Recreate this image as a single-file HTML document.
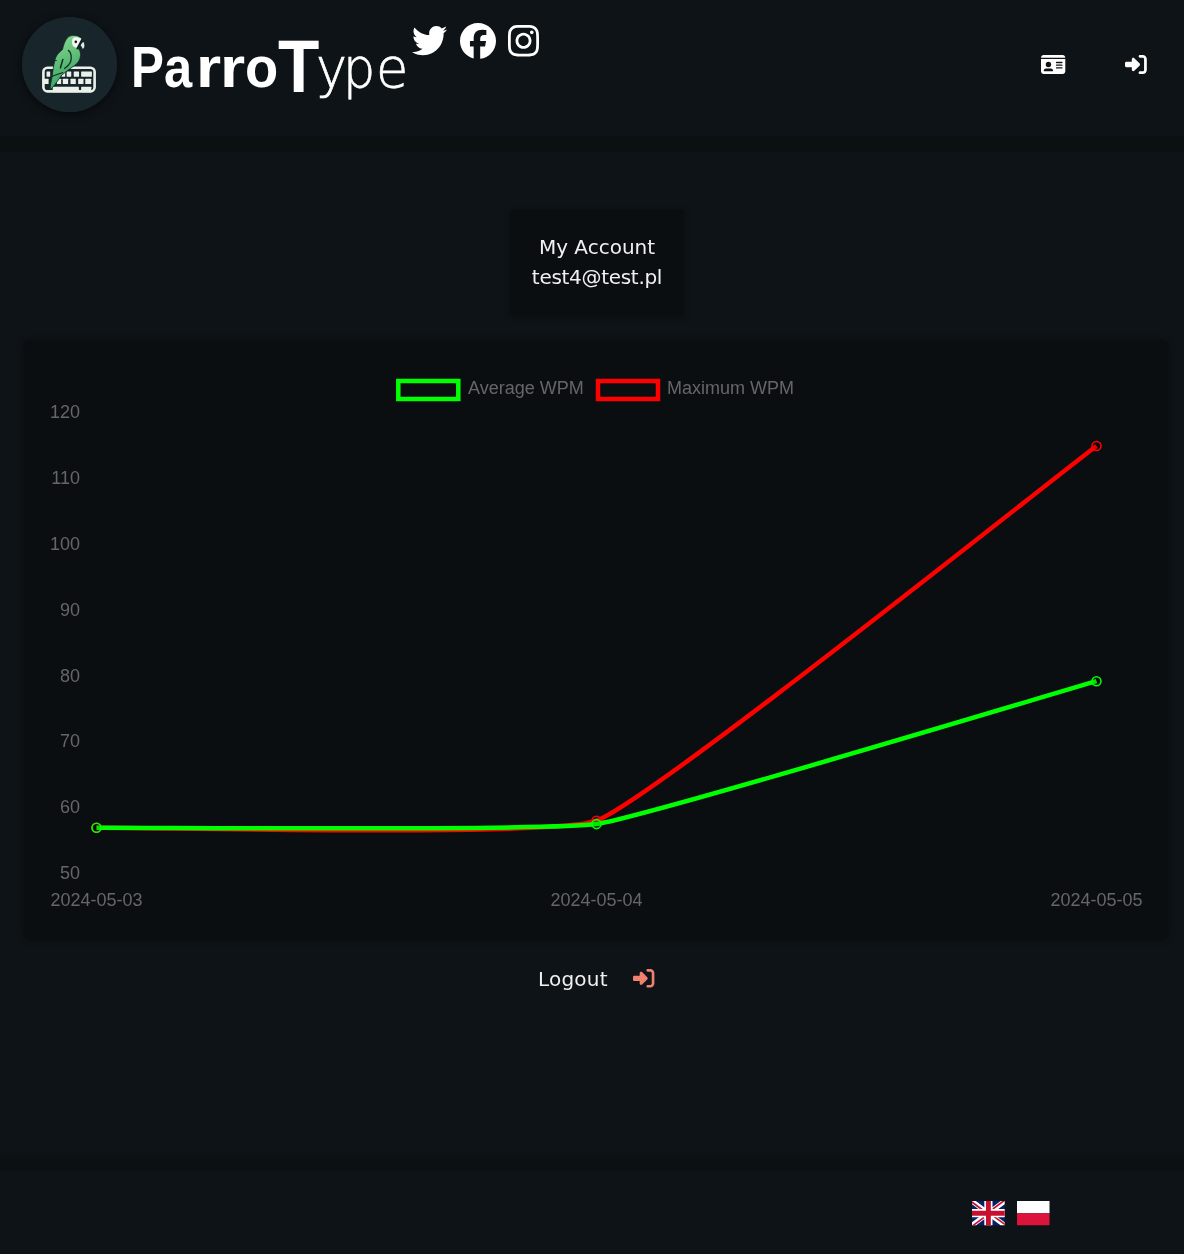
<!DOCTYPE html>
<html lang="en">
<head>
<meta charset="utf-8">
<title>ParroType - My Account</title>
<style>
html,body{margin:0;padding:0}
body{width:1184px;height:1254px;overflow:hidden;position:relative;background:#0e1317;font-family:"Liberation Sans",Arial,sans-serif;color:#fff}
.abs{position:absolute}
#header{left:0;top:0;width:1184px;height:136px;background:#0e1317;z-index:1}
#hband{left:0;top:136px;width:1184px;height:16px;background:#0b1013}
#fband{left:0;top:1152px;width:1184px;height:19px;background:linear-gradient(#0d1215,#0b1013 40%,#0b1013)}
#title{left:0;top:0;white-space:nowrap;color:#fff}
.tb{position:absolute;top:38.5px;font-weight:700;font-size:57px;line-height:1;transform-origin:0 0}
.tT{position:absolute;top:30.2px;font-weight:700;font-size:74px;line-height:1;transform-origin:0 0}
.tl{position:absolute;top:41px;font-family:"DejaVu Sans",sans-serif;font-weight:200;font-size:55px;line-height:1;transform-origin:0 0;-webkit-text-stroke:0.7px #fff}
#acct{left:510px;top:209px;width:174px;height:106px;background:#0a0e11;box-shadow:0 2px 6px rgba(0,0,0,.3);border-radius:4px}
.acct-t{position:absolute;left:0;width:174px;text-align:center;font-family:"DejaVu Sans",sans-serif;font-size:20px;line-height:30px;color:#f0f0f0}
#chart{left:23.5px;top:341px;width:1144px;height:599px;background:#0a0e11;border-radius:5px;box-shadow:0 0 6px rgba(0,0,0,.4)}
#logout{left:538px;top:967px;letter-spacing:0.2px;font-family:"DejaVu Sans",sans-serif;font-size:20px;line-height:24px;color:#f0f0f0}
#footer{left:0;top:1171px;width:1184px;height:83px;background:#0e1317}
svg{position:absolute;overflow:visible}
</style>
</head>
<body>
<div id="header" class="abs">
  <!-- logo -->
  <div class="abs" style="left:22px;top:17px;width:95px;height:95px;border-radius:50%;background:#18252b;box-shadow:0 2px 8px rgba(0,0,0,.55)"></div>
  <svg style="left:22px;top:17px" width="95" height="95" viewBox="0 0 95 95">
    <defs>
      <linearGradient id="pg" x1="0" y1="0" x2="0.3" y2="1">
        <stop offset="0" stop-color="#8fd99b"/>
        <stop offset="0.4" stop-color="#6cc680"/>
        <stop offset="1" stop-color="#34a063"/>
      </linearGradient>
    </defs>
    <circle cx="47.5" cy="47.5" r="47.5" fill="#18252b"/>
    <g transform="translate(13,13) scale(0.05914)">
      <!-- keyboard frame -->
      <rect x="142" y="638" width="866" height="400" rx="70" fill="none" stroke="#e9f1ea" stroke-width="44"/>
      <!-- row 1 -->
      <g fill="#e9f1ea">
        <rect x="195" y="700" width="62" height="90" rx="8"/>
        <rect x="445" y="700" width="65" height="90" rx="8"/>
        <rect x="535" y="700" width="78" height="90" rx="8"/>
        <rect x="655" y="700" width="90" height="90" rx="8"/>
        <rect x="780" y="700" width="182" height="90" rx="8"/>
        <!-- row 2 -->
        <rect x="130" y="825" width="100" height="90" rx="8"/>
        <rect x="370" y="825" width="72" height="90" rx="8"/>
        <rect x="470" y="825" width="90" height="90" rx="8"/>
        <rect x="600" y="825" width="90" height="90" rx="8"/>
        <rect x="730" y="825" width="90" height="90" rx="8"/>
        <rect x="850" y="825" width="100" height="90" rx="8"/>
        <!-- row 3 -->
        <rect x="300" y="960" width="442" height="92" rx="8"/>
        <rect x="780" y="960" width="172" height="92" rx="8"/>
      </g>
      <!-- parrot body -->
      <path d="M565 115 C600 92 660 82 720 100 C755 112 785 135 798 152 L722 305 C748 322 762 350 768 390 C771 410 770 420 770 430 C765 500 730 560 670 600 C600 650 520 700 455 760 C410 820 350 920 255 1015 C255 940 275 860 290 780 C300 700 315 600 335 510 C350 440 395 385 465 330 C480 260 505 170 565 115 Z" fill="url(#pg)" stroke="#0f2a22" stroke-width="14"/>
      <!-- face patch -->
      <path d="M640 140 C665 118 720 110 795 155 L722 300 C690 300 655 290 638 262 C622 230 622 180 640 140 Z" fill="#f3f6f2"/>
      <path d="M796 160 L716 312" stroke="#13231f" stroke-width="30" stroke-linecap="round"/>
      <circle cx="690" cy="200" r="22" fill="#111"/>
      <!-- beak -->
      <path d="M772 262 C785 235 800 215 820 205 C832 225 840 262 832 290 C826 305 816 315 806 320 C800 300 790 278 772 262 Z" fill="#dfe9e6"/>
      <!-- wing line -->
      <path d="M565 345 C615 380 625 470 600 540 C580 590 540 620 500 650" fill="none" stroke="#12301f" stroke-width="22" stroke-linecap="round"/>
      <path d="M470 500 L430 640" fill="none" stroke="#12301f" stroke-width="26" stroke-linecap="round"/>
      <path d="M305 525 L360 515" fill="none" stroke="#12301f" stroke-width="18" stroke-linecap="round"/>
      <path d="M285 785 C360 760 420 740 470 720" fill="none" stroke="#12301f" stroke-width="18" stroke-linecap="round"/>
    </g>
  </svg>
  <div id="title" class="abs">
    <span class="tb" style="left:130.7px;transform:scaleX(0.865)">P</span>
    <span class="tb" style="left:163.7px;transform:scaleX(0.888)">a</span>
    <span class="tb" style="left:196.1px;transform:scaleX(1.133)">r</span>
    <span class="tb" style="left:219.7px;transform:scaleX(1.133)">r</span>
    <span class="tb" style="left:244.65px;transform:scaleX(0.954)">o</span>
    <span class="tT" style="left:278px;transform:scaleX(0.914)">T</span>
    <span class="tl" style="left:315.6px;transform:scaleX(0.954)">y</span>
    <span class="tl" style="left:343.1px;transform:scaleX(0.924)">p</span>
    <span class="tl" style="left:375.6px;transform:scaleX(0.954)">e</span>
  </div>
  <!-- twitter -->
  <svg style="left:412px;top:26px" width="35.2" height="29.2" viewBox="0 47 512 417" preserveAspectRatio="none">
    <path fill="#fff" d="M459.37 151.716c.325 4.548.325 9.097.325 13.645 0 138.72-105.583 298.558-298.558 298.558-59.452 0-114.68-17.219-161.137-47.106 8.447.974 16.568 1.299 25.34 1.299 49.055 0 94.213-16.568 130.274-44.832-46.132-.975-84.792-31.188-98.112-72.772 6.498.974 12.995 1.624 19.818 1.624 9.421 0 18.843-1.3 27.614-3.573-48.081-9.747-84.143-51.98-84.143-102.985v-1.299c13.969 7.797 30.214 12.67 47.431 13.319-28.264-18.843-46.781-51.005-46.781-87.391 0-19.492 5.197-37.36 14.294-52.954 51.655 63.675 129.3 105.258 216.365 109.807-1.624-7.797-2.599-15.918-2.599-24.04 0-57.828 46.782-104.934 104.934-104.934 30.213 0 57.502 12.67 76.67 33.137 23.715-4.548 46.456-13.32 66.599-25.34-7.798 24.366-24.366 44.833-46.132 57.827 21.117-2.273 41.584-8.122 60.426-16.243-14.292 20.791-32.161 39.308-52.628 54.253z"/>
  </svg>
  <!-- facebook -->
  <svg style="left:460px;top:22.8px" width="36" height="36" viewBox="0 0 512 512">
    <path fill="#fff" d="M512 256C512 114.6 397.4 0 256 0S0 114.6 0 256C0 376 82.7 476.8 194.2 504.5V334.2H141.4V256h52.8V222.3c0-87.1 39.4-127.5 125-127.5c16.2 0 44.2 3.2 55.7 6.4V172c-6-.6-16.5-1-29.6-1c-42 0-58.2 15.9-58.2 57.2V256h83.6l-14.4 78.2H287V510.1C413.8 494.8 512 386.9 512 256h0z"/>
  </svg>
  <!-- instagram -->
  <svg style="left:508px;top:25px" width="31" height="31.5" viewBox="0 32 448 448" preserveAspectRatio="none">
    <path fill="#fff" d="M224.1 141c-63.6 0-114.9 51.3-114.9 114.9s51.3 114.9 114.9 114.9S339 319.5 339 255.9 287.7 141 224.1 141zm0 189.6c-41.1 0-74.7-33.5-74.7-74.7s33.5-74.7 74.7-74.7 74.7 33.5 74.7 74.7-33.6 74.7-74.7 74.7zm146.4-194.3c0 14.9-12 26.8-26.8 26.8-14.9 0-26.8-12-26.8-26.8s12-26.8 26.8-26.8 26.8 12 26.8 26.8zm76.1 27.2c-1.7-35.9-9.9-67.7-36.2-93.9-26.2-26.2-58-34.4-93.9-36.2-37-2.1-147.9-2.1-184.9 0-35.8 1.700-67.6 9.9-93.9 36.1s-34.4 58-36.2 93.9c-2.1 37-2.1 147.9 0 184.9 1.7 35.900 9.9 67.7 36.2 93.9s58 34.4 93.9 36.2c37 2.1 147.9 2.1 184.9 0 35.9-1.7 67.7-9.9 93.9-36.2 26.2-26.2 34.4-58 36.2-93.9 2.1-37 2.1-147.8 0-184.8zM398.8 388c-7.8 19.6-22.9 34.7-42.6 42.6-29.5 11.7-99.5 9-132.1 9s-102.700 2.6-132.1-9c-19.6-7.8-34.7-22.9-42.6-42.6-11.7-29.5-9-99.5-9-132.1s-2.6-102.7 9-132.1c7.8-19.6 22.9-34.7 42.6-42.6 29.5-11.7 99.5-9 132.1-9s102.7-2.6 132.1 9c19.6 7.8 34.7 22.9 42.6 42.6 11.7 29.5 9 99.5 9 132.1s2.7 102.7-9 132.1z"/>
  </svg>
  <!-- id card -->
  <svg style="left:1041.3px;top:55px" width="24.3" height="19" viewBox="0 32 576 448" preserveAspectRatio="none">
    <path fill="#fff" d="M0 96l576 0c0-35.3-28.7-64-64-64L64 32C28.7 32 0 60.7 0 96zm0 32L0 416c0 35.3 28.7 64 64 64l448 0c35.3 0 64-28.7 64-64l0-288L0 128zM64 405.3c0-29.5 23.9-53.3 53.3-53.3l117.3 0c29.5 0 53.3 23.9 53.3 53.3c0 5.9-4.8 10.7-10.7 10.7L74.7 416c-5.9 0-10.7-4.8-10.7-10.7zM176 192a64 64 0 1 1 0 128 64 64 0 1 1 0-128zm176 16c0-8.8 7.2-16 16-16l128 0c8.8 0 16 7.2 16 16s-7.2 16-16 16l-128 0c-8.8 0-16-7.2-16-16zm0 64c0-8.8 7.2-16 16-16l128 0c8.8 0 16 7.2 16 16s-7.2 16-16 16l-128 0c-8.8 0-16-7.2-16-16zm0 64c0-8.8 7.2-16 16-16l128 0c8.8 0 16 7.2 16 16s-7.2 16-16 16l-128 0c-8.8 0-16-7.2-16-16z"/>
  </svg>
  <!-- sign in -->
  <svg style="left:1125.2px;top:55px" width="21.8" height="19" viewBox="0 32 512 448" preserveAspectRatio="none">
    <path fill="#fff" d="M217.9 105.9L340.7 228.7c7.2 7.2 11.3 17.1 11.3 27.3s-4.1 20.1-11.3 27.3L217.9 406.1c-6.4 6.4-15 9.9-24 9.9c-18.7 0-33.9-15.2-33.9-33.9l0-62.1L32 320c-17.7 0-32-14.3-32-32l0-64c0-17.7 14.3-32 32-32l128 0 0-62.1c0-18.7 15.2-33.9 33.9-33.9c9 0 17.6 3.6 24 9.9zM352 416l64 0c17.7 0 32-14.3 32-32l0-256c0-17.7-14.300-32-32-32l-64 0c-17.7 0-32-14.3-32-32s14.3-32 32-32l64 0c53 0 96 43 96 96l0 256c0 53-43 96-96 96l-64 0c-17.7 0-32-14.3-32-32s14.3-32 32-32z"/>
  </svg>
</div>

<div id="hband" class="abs"></div>
<div id="fband" class="abs"></div>
<div id="acct" class="abs">
  <div class="acct-t" style="top:23.3px">My Account</div>
  <div class="acct-t" style="top:53.3px;letter-spacing:-0.3px">test4@test.pl</div>
</div>

<div id="chart" class="abs"></div>

<!-- chart drawing in page coordinates -->
<svg style="left:0;top:0;z-index:2" width="1184" height="1254" viewBox="0 0 1184 1254">
  <g font-family="Liberation Sans, Arial, sans-serif" font-size="18" fill="#666">
    <g text-anchor="end">
      <text x="80" y="418">120</text>
      <text x="80" y="484">110</text>
      <text x="80" y="550">100</text>
      <text x="80" y="616">90</text>
      <text x="80" y="682">80</text>
      <text x="80" y="747">70</text>
      <text x="80" y="813">60</text>
      <text x="80" y="879">50</text>
    </g>
    <g text-anchor="middle">
      <text x="96.5" y="906">2024-05-03</text>
      <text x="596.5" y="906">2024-05-04</text>
      <text x="1096.5" y="906">2024-05-05</text>
    </g>
    <text x="468" y="394.3">Average WPM</text>
    <text x="667" y="394.3">Maximum WPM</text>
  </g>
  <rect x="398.3" y="381" width="60" height="18" fill="none" stroke="#00ff00" stroke-width="4.5"/>
  <rect x="598" y="381" width="60" height="18" fill="none" stroke="#ff0000" stroke-width="4.5"/>
  <path d="M96.5 827.7 C146.5 827.0 552.0 837.7 596.5 820.7 C652.0 799.5 1046.5 483.5 1096.5 446.0" fill="none" stroke="#ff0000" stroke-width="4.5"/>
  <g fill="rgba(0,0,0,0.1)" stroke-width="1.6" stroke="#ff0000">
    <circle cx="96.5" cy="827.7" r="4.5"/>
    <circle cx="596.5" cy="820.7" r="4.5"/>
    <circle cx="1096.5" cy="446" r="4.5"/>
  </g>
  <path d="M96.5 827.7 C146.5 827.3 547.5 831.3 596.5 824.1 C647.5 816.6 1046.5 695.5 1096.5 681.2" fill="none" stroke="#00ff00" stroke-width="4.5"/>
  <g fill="rgba(0,0,0,0.1)" stroke-width="1.6" stroke="#00ff00">
    <circle cx="96.5" cy="827.7" r="4.5"/>
    <circle cx="596.5" cy="824.1" r="4.5"/>
    <circle cx="1096.5" cy="681.2" r="4.5"/>
  </g>
</svg>

<div id="logout" class="abs">Logout</div>
<svg style="left:632.6px;top:969.2px" width="21.4" height="18.6" viewBox="0 32 512 448" preserveAspectRatio="none">
  <path fill="#f08070" d="M217.9 105.9L340.7 228.7c7.2 7.2 11.3 17.1 11.3 27.3s-4.1 20.1-11.3 27.3L217.9 406.1c-6.4 6.4-15 9.900-24 9.9c-18.7 0-33.9-15.2-33.9-33.9l0-62.1L32 320c-17.7 0-32-14.3-32-32l0-64c0-17.7 14.3-32 32-32l128 0 0-62.1c0-18.7 15.2-33.9 33.9-33.9c9 0 17.6 3.6 24 9.9zM352 416l64 0c17.7 0 32-14.3 32-32l0-256c0-17.7-14.3-32-32-32l-64 0c-17.7 0-32-14.3-32-32s14.3-32 32-32l64 0c53 0 96 43 96 96l0 256c0 53-43 96-96 96l-64 0c-17.7 0-32-14.3-32-32s14.3-32 32-32z"/>
</svg>

<div id="footer" class="abs">
  <!-- UK flag -->
  <svg style="left:972.2px;top:29.6px" width="32.7" height="24.3" viewBox="0 0 640 480" preserveAspectRatio="none">
    <path fill="#012169" d="M0 0h640v480H0z"/>
    <path fill="#FFF" d="m75 0 244 181L562 0h78v62L400 241l240 178v61h-80L320 301 81 480H0v-60l239-178L0 64V0z"/>
    <path fill="#C8102E" d="m424 281 216 159v40L369 281zm-184 20 6 35L54 480H0zM640 0v3L391 191l2-44L590 0zM0 0l239 176h-60L0 42z"/>
    <path fill="#FFF" d="M241 0v480h160V0zM0 160v160h640V160z"/>
    <path fill="#C8102E" d="M0 193v96h640v-96zM273 0v480h96V0z"/>
  </svg>
  <!-- PL flag -->
  <svg style="left:1016.5px;top:29.6px" width="32.5" height="24.3" viewBox="0 0 640 480" preserveAspectRatio="none">
    <path fill="#fff" d="M0 0h640v240H0z"/>
    <path fill="#dc143c" d="M0 240h640v240H0z"/>
  </svg>
</div>
</body>
</html>
